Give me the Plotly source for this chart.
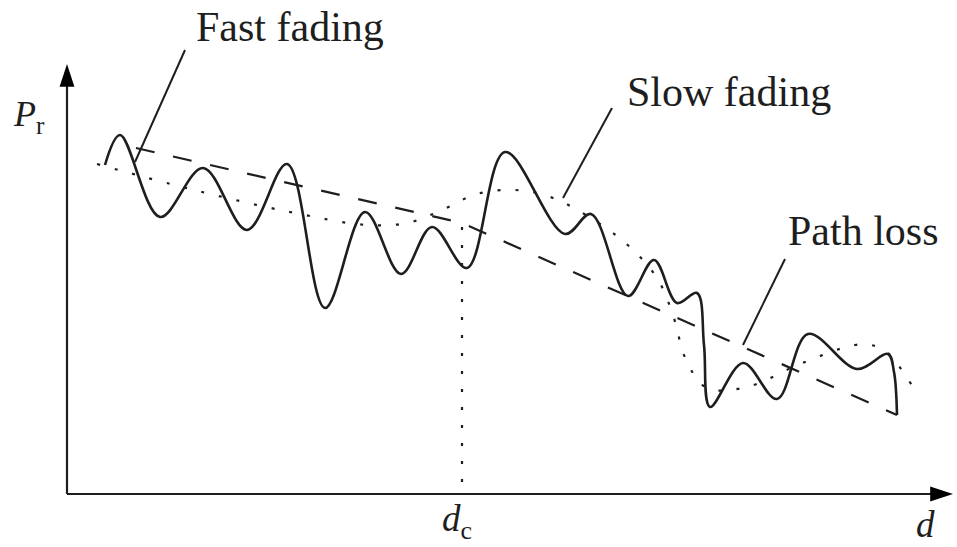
import plotly.graph_objects as go

# ---- data (pixel-like coordinate system) ----
fast_x = [105, 120, 160, 203, 247, 287, 325, 365, 401, 432, 467, 505, 565, 591,
          628, 654, 677, 697, 704, 710, 743, 777, 808, 857, 888, 894, 897]
fast_y = [165, 135, 217, 168, 230, 164, 308, 212, 274, 227, 268, 152, 234, 214,
          296, 260, 303, 293, 345, 407, 363, 399, 334, 369, 354, 372, 415]

path_x = [136, 462, 897]
path_y = [148, 223, 415]

slow_x = [97, 190, 290, 367, 407, 440, 477, 515, 553, 603, 633, 657, 672, 687,
          707, 747, 800, 855, 875, 888, 913]
slow_y = [164, 189, 212, 225, 223, 211, 194, 190, 198, 226, 250, 278, 312, 362,
          388, 387, 364, 345, 346, 353, 387]

dc_x = [462, 462]
dc_y = [227, 494]

ptr_fast_x, ptr_fast_y = [185, 135], [50, 162]
ptr_slow_x, ptr_slow_y = [612, 563], [108, 198]
ptr_path_x, ptr_path_y = [785, 743], [259, 345]

axis_x_x, axis_x_y = [67, 953], [494, 494]
axis_y_x, axis_y_y = [67, 67], [494, 64]

INK = "#1e1e1e"
FONT = "Liberation Serif"

fig = go.Figure()

fig.add_trace(go.Scatter(x=slow_x, y=slow_y, mode="lines",
                         line=dict(color=INK, width=2.2, dash="3px,15px", shape="spline", smoothing=1.0),
                         hoverinfo="skip"))
fig.add_trace(go.Scatter(x=path_x, y=path_y, mode="lines",
                         line=dict(color=INK, width=2.2, dash="19px,19px"),
                         hoverinfo="skip"))
fig.add_trace(go.Scatter(x=fast_x, y=fast_y, mode="lines",
                         line=dict(color=INK, width=2.6, shape="spline", smoothing=1.0),
                         hoverinfo="skip"))
fig.add_trace(go.Scatter(x=dc_x, y=dc_y, mode="lines",
                         line=dict(color=INK, width=2.2, dash="3px,15px"),
                         hoverinfo="skip"))
for px, py in [(ptr_fast_x, ptr_fast_y), (ptr_slow_x, ptr_slow_y), (ptr_path_x, ptr_path_y)]:
    fig.add_trace(go.Scatter(x=px, y=py, mode="lines",
                             line=dict(color=INK, width=2.0), hoverinfo="skip"))

# axes with arrowheads
for ax_x, ax_y in [(axis_x_x, axis_x_y), (axis_y_x, axis_y_y)]:
    fig.add_trace(go.Scatter(x=ax_x, y=ax_y, mode="lines+markers",
                             line=dict(color=INK, width=2.2),
                             marker=dict(symbol="arrow", size=[0, 24], angleref="previous",
                                         color="#000000", opacity=1, line=dict(width=0)),
                             hoverinfo="skip"))

labels = [
    ("Fast fading", 194, 27, 42),
    ("Slow fading", 625, 92, 42),
    ("Path loss", 786, 231, 42),
]
for t, x, y, s in labels:
    fig.add_annotation(x=x, y=y, xref="x", yref="y", text=t, showarrow=False,
                       xanchor="left", yanchor="middle",
                       font=dict(family=FONT, size=s, color=INK))

fig.add_annotation(x=11, y=116, xref="x", yref="y", text="<i>P</i><sub>r</sub>",
                   showarrow=False, xanchor="left", yanchor="middle",
                   font=dict(family=FONT, size=36, color=INK))
fig.add_annotation(x=440, y=547, xref="x", yref="y", text="<i>d</i><sub>c</sub>",
                   showarrow=False, xanchor="left", yanchor="bottom",
                   font=dict(family=FONT, size=37, color=INK))
fig.add_annotation(x=914, y=547, xref="x", yref="y", text="<i>d</i>",
                   showarrow=False, xanchor="left", yanchor="bottom",
                   font=dict(family=FONT, size=37, color=INK))

fig.update_layout(
    width=957, height=547,
    margin=dict(l=0, r=0, t=0, b=0),
    paper_bgcolor="white", plot_bgcolor="white",
    showlegend=False,
    xaxis=dict(range=[0, 957], visible=False, fixedrange=True),
    yaxis=dict(range=[547, 0], visible=False, fixedrange=True),
)

fig.write_html("out.html", config={"displayModeBar": False, "staticPlot": True},
               post_script="document.body.style.margin='0px';document.body.style.overflow='hidden';")
